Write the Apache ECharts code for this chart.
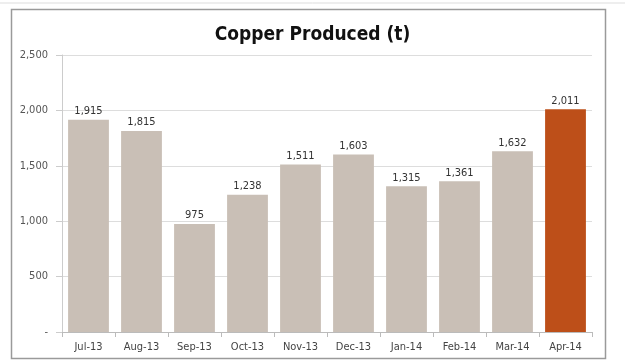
<!DOCTYPE html>
<html><head><meta charset="utf-8">
<script src="https://cdn.jsdelivr.net/npm/echarts@6/dist/echarts.min.js"></script>
<style>html,body{margin:0;padding:0;background:#fff}#c{width:625px;height:363px}</style>
</head><body><div id="c"></div>
<script>
var categories = ["Jul-13","Aug-13","Sep-13","Oct-13","Nov-13","Dec-13","Jan-14","Feb-14","Mar-14","Apr-14"];
var copperProduced = [1915,1815,975,1238,1511,1603,1315,1361,1632,2011];
var highlightIndex = 9;
var yTicks = [0,500,1000,1500,2000,2500];

var FONT = "'Liberation Sans Narrow','DejaVu Sans Condensed',sans-serif";
function fmt(v){ return v===0 ? '-' : v.toLocaleString('en-US'); }

var chart = echarts.init(document.getElementById('c'));
chart.setOption({
  animation:false,
  title:{text:'Copper Produced (t)', left:'center', top:21,
    textStyle:{fontFamily:FONT, fontWeight:'bold', fontSize:19, color:'#111'}},
  graphic:[
    {type:'line', shape:{x1:0,y1:3,x2:625,y2:3}, style:{stroke:'#ddd',lineWidth:1}},
    {type:'rect', shape:{x:11.5,y:9.5,width:594,height:349}, style:{fill:null,stroke:'#9a9a9a',lineWidth:1.5}}
  ],
  grid:{left:62, right:33, top:55, bottom:31},
  xAxis:{type:'category', data:categories,
    axisLine:{lineStyle:{color:'#bbb'}},
    axisTick:{show:true, length:5, lineStyle:{color:'#bbb'}},
    axisLabel:{fontFamily:FONT, fontSize:11, color:'#444', margin:10}},
  yAxis:{type:'value', min:yTicks[0], max:yTicks[yTicks.length-1], interval:500,
    axisLine:{show:true, lineStyle:{color:'#ccc'}},
    axisTick:{show:true, inside:false, length:6, lineStyle:{color:'#ccc'}},
    splitLine:{lineStyle:{color:'#ddd'}},
    axisLabel:{fontFamily:FONT, fontSize:11, color:'#555', margin:14, formatter:fmt}},
  series:[{type:'bar', data:copperProduced.map(function(v,i){
      return {value:v, itemStyle:{color: i===highlightIndex ? '#BD4F19' : '#C9BFB6'}};
    }),
    barCategoryGap:'23%',
    label:{show:true, position:'top', distance:3, fontFamily:FONT, fontSize:11, color:'#333',
      formatter:function(p){return fmt(p.value);}}
  }]
});
</script></body></html>
